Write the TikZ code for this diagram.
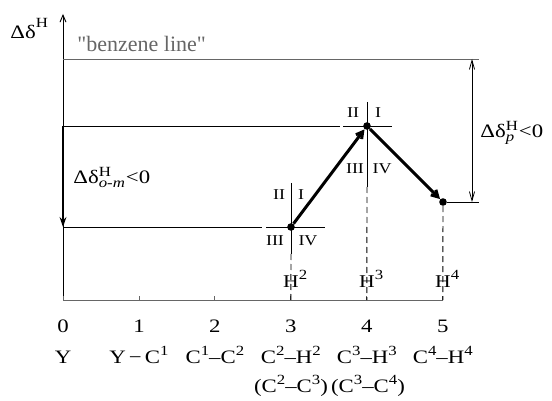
\documentclass[tikz,border=0pt]{standalone}
\usepackage{amsmath}
\usepackage{fontspec}
\setmainfont{Liberation Serif}[FakeStretch=1.2]
\newfontfamily\llana{Liberation Serif}
\usepackage{tikz}
\usetikzlibrary{arrows.meta}
\definecolor{gris}{HTML}{666666}
\newcommand{\sz}{\fontsize{7}{8}\selectfont}
\newcommand{\sups}[1]{\raisebox{0.85ex}{\sz #1}}

\begin{document}
\begin{tikzpicture}[
  x=0.5pt, y=-0.5pt,
  font=\fontsize{9.5}{11}\selectfont,
  fina/.style={line width=0.45pt},
  gfina/.style={line width=0.45pt, draw=gris},
  guia/.style={line width=0.45pt, dash pattern=on 3pt off 2pt},
  punto/.style={circle, fill, inner sep=0pt, minimum size=3.8pt},
  salto/.style={-{Straight Barb[length=3.2pt,width=3.6pt]}, line width=1.5pt},
  caida/.style={-{Stealth[length=5pt,width=3.4pt]}, line width=1.1pt},
  cota/.style={{Straight Barb[length=4.5pt,width=2.6pt]}-{Straight Barb[length=4.5pt,width=2.6pt]}, line width=0.4pt},
  cuad/.style={inner sep=0pt, font=\fontsize{7.5}{9}\selectfont},
  rotulo/.style={inner sep=0pt, anchor=base}
]
\useasboundingbox (0,0) rectangle (552,401);
\coordinate (O) at (63,300);
\coordinate (cima) at (63,14);
\coordinate (fin) at (443,300);
\node[punto] (p2) at (291,227) {};
\node[punto] (p3) at (367,126) {};
\node[punto] (p4) at (443,202) {};
\draw[fina, -{Straight Barb[length=3.5pt,width=3pt]}] (O) -- (cima);
\draw[gfina] (O) -- (fin);
\foreach \i/\t in {0/Y, 1/{Y\,−\,C\sups{1}}, 2/{C\sups{1}–C\sups{2}}, 3/{C\sups{2}–H\sups{2}}, 4/{C\sups{3}–H\sups{3}}, 5/{C\sups{4}–H\sups{4}}} {
  \coordinate (t\i) at (63+75.96*\i,300);
  \draw[gfina] (t\i) -- ++(0,-4);
  \node[rotulo] (n\i) at (63+75.96*\i,332) {\i};
  \node[rotulo] (e\i) at (63+75.96*\i,363) {\t};
}
\node[rotulo] (f3) at (291,392) {(C\sups{2}–C\sups{3})};
\node[rotulo] (f4) at (368,392) {(C\sups{3}–C\sups{4})};
\node[rotulo, anchor=base west] (eje) at (10,39) {Δδ\raisebox{1.3ex}{\sz H}};
\coordinate (b0) at (63,59);
\coordinate (b1) at (479,59);
\draw[gfina] (b0) -- (b1);
\node[rotulo, anchor=base west, text=gris, font=\llana\fontsize{11}{13}\selectfont] (benceno) at (77,52) {\textquotedbl benzene line\textquotedbl};
\coordinate (a3) at (63,126);
\coordinate (l3) at (340,126);
\coordinate (a2) at (63,227);
\coordinate (l2) at (262,227);
\draw[fina] (a3) -- (l3);
\draw[fina] (a2) -- (l2);
\draw[fina] (266,227) -- (325,227);
\draw[fina] (291,183) -- (291,254);
\draw[guia] (291,254) -- (t3);
\draw[fina] (343,126) -- (392,126);
\draw[fina] (367,102) -- (367,187);
\draw[guia] (367,187) -- (t4);
\draw[guia] (p4) -- (t5);
\node[cuad] (q2a) at (279,195) {II};
\node[cuad] (q2b) at (301,195) {I};
\node[cuad] (q2c) at (275,241) {III};
\node[cuad] (q2d) at (308,241) {IV};
\node[cuad] (q3a) at (353,113) {II};
\node[cuad] (q3b) at (378,113) {I};
\node[cuad] (q3c) at (355,169) {III};
\node[cuad] (q3d) at (382,169) {IV};
\foreach \i/\x in {2/291, 3/367, 4/443}
  \node[rotulo, font=\fontsize{9}{11}\selectfont] (h\i) at (\x,287) {H\rlap{\sups{\i}}};
\coordinate (d4) at (479,202);
\draw[fina] (p4) -- (d4);
\coordinate (c1) at (472,59);
\coordinate (c2) at (472,202);
\draw[cota] (c1) -- (c2);
\node[rotulo, anchor=base west] (dp) at (480,138) {Δδ$^{\mbox{\sz H}}_{\mbox{\sz\itshape p}}$<0};
\node[rotulo, anchor=base west] (dom) at (73,184) {Δδ$^{\mbox{\sz H}}_{\mbox{\sz\itshape o-m}}$<0};
\draw[caida] (a3) -- (a2);
\draw[salto] (p2) -- (p3);
\draw[salto] (p3) -- (p4);
\end{tikzpicture}
\end{document}
